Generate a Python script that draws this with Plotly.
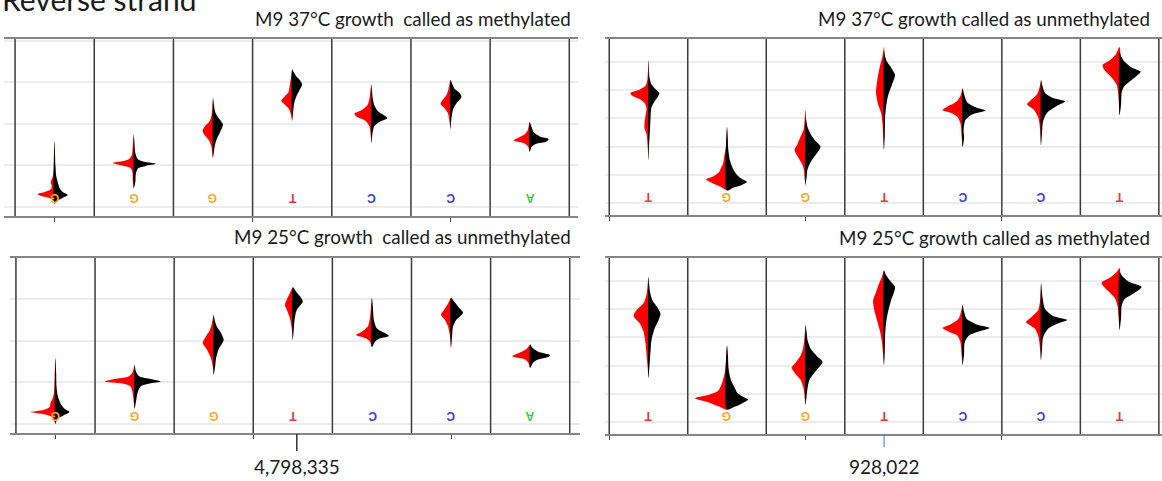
import plotly.graph_objects as go

W, H = 1162, 481

# ---------------- data ----------------
bases_left = ["G", "G", "G", "T", "C", "C", "A"]
bases_right = ["T", "G", "G", "T", "C", "C", "T"]
base_colors = {"G": "#f7a823", "T": "#e0383c", "C": "#3b3bec", "A": "#3cc83c"}

titles = ["M9 37°C growth  called as methylated",
          "M9 37°C growth called as unmethylated",
          "M9 25°C growth  called as unmethylated",
          "M9 25°C growth called as methylated"]
header = "Reverse strand"
positions = ["4,798,335", "928,022"]

# density profiles: (signal level, half-width density)
TL_RED = [
    [(0.08, 0), (0.15, 1), (0.22, 6), (0.27, 14), (0.31, 17), (0.36, 10), (0.42, 4), (0.5, 3), (0.6, 4), (0.72, 2), (0.9, 1), (1.3, 0.7), (1.6, 0)],
    [(0.45, 0), (0.6, 1), (0.85, 1.5), (0.95, 4), (1.0, 12), (1.06, 21), (1.1, 12), (1.15, 5), (1.25, 2), (1.5, 1), (1.76, 0)],
    [(1.18, 0), (1.3, 0.8), (1.45, 1.5), (1.6, 4), (1.72, 8), (1.84, 10.5), (1.95, 8), (2.05, 4), (2.15, 2), (2.3, 1), (2.63, 0)],
    [(2.05, 0), (2.2, 1), (2.35, 3), (2.48, 8), (2.56, 11), (2.65, 8), (2.75, 4), (2.85, 3), (3.0, 2), (3.15, 1), (3.3, 0)],
    [(1.54, 0), (1.75, 0.8), (1.95, 2), (2.08, 6), (2.18, 15), (2.25, 17), (2.33, 10), (2.45, 4), (2.6, 2), (2.8, 1), (2.96, 0)],
    [(1.86, 0), (2.05, 1), (2.25, 2.5), (2.38, 6), (2.48, 10), (2.58, 8), (2.7, 4), (2.85, 2), (3.06, 0)],
    [(1.33, 0), (1.45, 1.5), (1.53, 5), (1.6, 16), (1.66, 12), (1.75, 5), (1.85, 2), (2.05, 0)],
]
TL_BLACK = [
    [(0.08, 0), (0.15, 3), (0.22, 8), (0.29, 13), (0.36, 8), (0.45, 5), (0.6, 3), (0.75, 1.5), (1.0, 0.8), (1.6, 0)],
    [(0.45, 0), (0.6, 1.5), (0.8, 2), (0.93, 4), (0.99, 12), (1.04, 22), (1.09, 10), (1.15, 4), (1.3, 1.5), (1.6, 0.5), (1.76, 0)],
    [(1.18, 0), (1.35, 1), (1.5, 2), (1.65, 4), (1.8, 7), (1.98, 10), (2.1, 7), (2.2, 4), (2.3, 2), (2.45, 1), (2.63, 0)],
    [(2.1, 0), (2.3, 1), (2.5, 2), (2.65, 4), (2.8, 7), (2.95, 10), (3.05, 8), (3.15, 4), (3.25, 1.5), (3.32, 0)],
    [(1.54, 0), (1.75, 1), (1.95, 3), (2.05, 8), (2.14, 16), (2.22, 12), (2.32, 6), (2.45, 3), (2.6, 1.5), (2.85, 0.5), (2.96, 0)],
    [(1.9, 0), (2.15, 1), (2.35, 2.5), (2.5, 6), (2.65, 11), (2.75, 9), (2.85, 4), (2.95, 2), (3.06, 0)],
    [(1.33, 0), (1.45, 2), (1.52, 6), (1.58, 17), (1.64, 19), (1.7, 10), (1.8, 4), (1.92, 2), (2.05, 0)],
]
TR_RED = [
    [(1.53, 0), (2.0, 0.8), (2.45, 2), (2.65, 4), (2.85, 4), (3.1, 3), (3.35, 2), (3.55, 4), (3.7, 10), (3.82, 17), (3.9, 18), (4.0, 10), (4.15, 3), (4.4, 1), (5.06, 0)],
    [(0.47, 0), (0.58, 6), (0.7, 14), (0.85, 21), (0.95, 14), (1.1, 8), (1.25, 6), (1.4, 4), (1.6, 3), (1.8, 2), (2.0, 1), (2.3, 0.5), (2.71, 0)],
    [(0.65, 0), (0.9, 1), (1.15, 1.5), (1.35, 3), (1.6, 7), (1.88, 11), (2.1, 8), (2.35, 5), (2.6, 2), (2.9, 1), (3.3, 0)],
    [(1.88, 0), (2.3, 0.8), (2.8, 1.5), (3.2, 3), (3.5, 6), (3.9, 8), (4.3, 7), (4.7, 5), (5.0, 3), (5.2, 1.5), (5.53, 0)],
    [(1.99, 0), (2.4, 1), (2.8, 2), (3.05, 5), (3.2, 12), (3.3, 20), (3.42, 15), (3.6, 6), (3.8, 2), (4.07, 0)],
    [(2.06, 0), (2.6, 1), (3.0, 2.5), (3.3, 7), (3.5, 14), (3.65, 10), (3.85, 4), (4.1, 1.5), (4.36, 0)],
    [(3.12, 0), (3.5, 0.7), (3.9, 1.5), (4.2, 3), (4.45, 8), (4.7, 15), (4.89, 17), (5.05, 10), (5.25, 4), (5.52, 0)],
]
TR_BLACK = [
    [(1.53, 0), (2.2, 0.8), (2.6, 1.5), (3.0, 2), (3.4, 3), (3.6, 6), (3.75, 9), (3.88, 11), (4.0, 8), (4.2, 3), (4.45, 1), (5.06, 0)],
    [(0.45, 0), (0.55, 6), (0.65, 15), (0.76, 20), (0.88, 14), (1.0, 10), (1.15, 7), (1.3, 5), (1.5, 3), (1.7, 2), (2.0, 1), (2.3, 0.7), (2.71, 0)],
    [(0.65, 0), (0.9, 1), (1.2, 2), (1.45, 5), (1.75, 11), (2.0, 15), (2.2, 10), (2.45, 5), (2.7, 2), (3.0, 0.5), (3.3, 0)],
    [(1.9, 0), (2.4, 0.7), (3.0, 1), (3.4, 2), (3.8, 4), (4.2, 8), (4.53, 11), (4.8, 7), (5.0, 3), (5.2, 1), (5.4, 0)],
    [(1.99, 0), (2.3, 1.5), (2.6, 1), (2.95, 3), (3.15, 10), (3.28, 23), (3.38, 14), (3.55, 5), (3.8, 2), (4.07, 0)],
    [(2.06, 0), (2.5, 1), (2.9, 2), (3.2, 6), (3.45, 16), (3.6, 24), (3.72, 12), (3.9, 4), (4.2, 1), (4.36, 0)],
    [(3.12, 0), (3.5, 1.5), (3.9, 2), (4.1, 4), (4.3, 10), (4.5, 17), (4.65, 21), (4.8, 12), (5.0, 5), (5.2, 1.5), (5.35, 0)],
]
BL_RED = [
    [(0.0, 0), (0.15, 3), (0.22, 10), (0.28, 25), (0.33, 12), (0.4, 6), (0.5, 5), (0.6, 3), (0.75, 1.5), (1.0, 1), (1.3, 0.7), (1.59, 0)],
    [(0.36, 0), (0.55, 1), (0.75, 2), (0.9, 4), (0.97, 12), (1.02, 30), (1.08, 20), (1.14, 6), (1.25, 2), (1.42, 0)],
    [(1.18, 0), (1.4, 1), (1.6, 3), (1.8, 7), (1.95, 11), (2.1, 8), (2.25, 4), (2.4, 2), (2.63, 0)],
    [(2.02, 0), (2.3, 1), (2.55, 3), (2.75, 6), (2.87, 8), (3.0, 6), (3.15, 3), (3.28, 0)],
    [(1.85, 0), (1.98, 2), (2.06, 6), (2.14, 16), (2.22, 10), (2.35, 4), (2.55, 2), (2.8, 1), (3.04, 0)],
    [(1.83, 0), (2.1, 1), (2.35, 3), (2.5, 6), (2.63, 10), (2.75, 7), (2.9, 3), (3.04, 0)],
    [(1.35, 0), (1.48, 2), (1.56, 6), (1.63, 18), (1.7, 12), (1.8, 4), (1.9, 0)],
]
BL_BLACK = [
    [(0.0, 0), (0.12, 2), (0.2, 8), (0.28, 14), (0.36, 9), (0.45, 6), (0.55, 4), (0.7, 2), (0.9, 1), (1.2, 0.7), (1.59, 0)],
    [(0.36, 0), (0.55, 1.5), (0.75, 3), (0.9, 6), (0.97, 15), (1.02, 26), (1.08, 16), (1.14, 5), (1.25, 1.5), (1.42, 0)],
    [(1.18, 0), (1.4, 1.5), (1.6, 2.5), (1.8, 5), (2.02, 10), (2.2, 7), (2.35, 3), (2.5, 1), (2.63, 0)],
    [(2.02, 0), (2.3, 1), (2.55, 2), (2.75, 4), (2.95, 10), (3.08, 7), (3.2, 3), (3.3, 0)],
    [(1.85, 0), (1.98, 3), (2.06, 8), (2.12, 17), (2.2, 12), (2.3, 5), (2.5, 2), (2.8, 1), (3.04, 0)],
    [(1.83, 0), (2.1, 1), (2.35, 2), (2.5, 5), (2.68, 12), (2.8, 8), (2.95, 3), (3.04, 0)],
    [(1.35, 0), (1.48, 3), (1.55, 8), (1.61, 18), (1.66, 20), (1.74, 8), (1.84, 2), (1.92, 0)],
]
BR_RED = [
    [(1.56, 0), (2.0, 1), (2.4, 2), (2.8, 3), (3.2, 5), (3.5, 9), (3.75, 15), (3.95, 12), (4.2, 5), (4.5, 2), (4.8, 1), (5.13, 0)],
    [(0.45, 0), (0.55, 8), (0.7, 18), (0.85, 32), (0.95, 20), (1.1, 9), (1.3, 6), (1.5, 4), (1.8, 2), (2.2, 1), (2.72, 0)],
    [(0.61, 0), (0.9, 1), (1.2, 2), (1.5, 5), (1.75, 11), (1.92, 14), (2.1, 10), (2.35, 5), (2.6, 2.5), (3.0, 1), (3.43, 0)],
    [(2.02, 0), (2.4, 1), (2.8, 2), (3.2, 4), (3.6, 7), (4.0, 10), (4.3, 11), (4.6, 8), (4.9, 5), (5.15, 2), (5.38, 0)],
    [(2.02, 0), (2.4, 1), (2.8, 2), (3.05, 5), (3.2, 14), (3.33, 20), (3.45, 12), (3.65, 4), (3.9, 1.5), (4.14, 0)],
    [(2.2, 0), (2.6, 1), (3.0, 2.5), (3.3, 6), (3.54, 15), (3.7, 10), (3.95, 3), (4.3, 1), (4.92, 0)],
    [(3.26, 0), (3.7, 1), (4.1, 2), (4.4, 5), (4.65, 12), (4.92, 18), (5.1, 10), (5.3, 3), (5.45, 0)],
]
BR_BLACK = [
    [(1.56, 0), (2.0, 1), (2.5, 2), (2.9, 3), (3.3, 6), (3.6, 10), (3.82, 12), (4.05, 9), (4.3, 4), (4.6, 1.5), (5.13, 0)],
    [(0.45, 0), (0.55, 8), (0.68, 16), (0.8, 21), (0.92, 15), (1.05, 10), (1.2, 8), (1.4, 5), (1.6, 3), (1.9, 1.5), (2.3, 1), (2.72, 0)],
    [(0.61, 0), (0.9, 1), (1.2, 2), (1.5, 4), (1.8, 10), (2.13, 17), (2.35, 11), (2.6, 5), (2.9, 2), (3.2, 1), (3.43, 0)],
    [(2.02, 0), (2.5, 0.7), (3.0, 1), (3.5, 2), (3.9, 4), (4.3, 7), (4.6, 10), (4.78, 11), (5.0, 6), (5.2, 2), (5.35, 0)],
    [(2.02, 0), (2.4, 1.5), (2.8, 2), (3.05, 6), (3.2, 16), (3.33, 27), (3.45, 14), (3.65, 4), (3.9, 1.5), (4.14, 0)],
    [(2.2, 0), (2.6, 1), (3.0, 2), (3.3, 7), (3.5, 18), (3.61, 26), (3.75, 12), (4.0, 4), (4.4, 1.5), (4.92, 0)],
    [(3.26, 0), (3.7, 1.5), (4.1, 2), (4.35, 5), (4.55, 14), (4.78, 22), (4.95, 10), (5.15, 3), (5.3, 0)],
]

# ---------------- layout of panels (pixels) ----------------
def px_x(p):
    return p / W

def px_y(p):
    return 1 - p / H

panels = [
    dict(red=TL_RED, black=TL_BLACK, bases=bases_left, title=titles[0],
         xd=(4, 578), yd=(216, 39), xr=(-0.64, 6.61), yr=(-0.217, 4.048),
         ngrid=5, colpx=79.2, ticks=[0, 2.5, 5], title_x=573, title_y=18),
    dict(red=TR_RED, black=TR_BLACK, bases=bases_right, title=titles[1],
         xd=(605, 1162), yd=(215, 39), xr=(-0.554, 6.54), yr=(-0.413, 5.806),
         ngrid=6, colpx=78.5, ticks=[-0.5, 2, 4.5], title_x=1152, title_y=18),
    dict(red=BL_RED, black=BL_BLACK, bases=bases_left, title=titles[2],
         xd=(10, 580), yd=(433, 258), xr=(-0.575, 6.63), yr=(-0.224, 4.0),
         ngrid=5, colpx=79.1, ticks=[0, 2.5, 5], title_x=573, title_y=236),
    dict(red=BR_RED, black=BR_BLACK, bases=bases_right, title=titles[3],
         xd=(605, 1162), yd=(434, 258), xr=(-0.554, 6.54), yr=(-0.417, 5.80),
         ngrid=6, colpx=78.5, ticks=[-0.5, 2, 4.5], title_x=1152, title_y=237),
]

fig = go.Figure()
annotations = []
shapes = []
FONT = "Lato, 'Open Sans', sans-serif"

for k, p in enumerate(panels):
    n = k + 1
    xa = "x" if n == 1 else f"x{n}"
    ya = "y" if n == 1 else f"y{n}"
    xkey = "xaxis" if n == 1 else f"xaxis{n}"
    ykey = "yaxis" if n == 1 else f"yaxis{n}"

    for side, profiles, color in (("red", p["red"], "#ff0000"), ("black", p["black"], "#000000")):
        sign = -1 if side == "red" else 1
        for i, knots in enumerate(profiles):
            ys = [y for y, w in knots]
            xs = [i + sign * w / p["colpx"] for y, w in knots]
            xs += [i]
            ys += [ys[0]]
            fig.add_trace(go.Scatter(x=xs, y=ys, xaxis=xa, yaxis=ya, mode="lines",
                                     fill="toself", fillcolor=color,
                                     line=dict(width=0, color=color, shape="spline", smoothing=0.7),
                                     hoverinfo="skip", showlegend=False))

    fig.update_layout(**{
        xkey: dict(domain=[px_x(p["xd"][0]), px_x(p["xd"][1])], range=list(p["xr"]),
                   anchor=ya, showgrid=False, zeroline=False, showline=True, mirror=True,
                   linecolor="#858585", linewidth=2, tickmode="array", tickvals=p["ticks"],
                   ticks="outside", ticklen=4, tickwidth=1, tickcolor="#444444",
                   showticklabels=False, fixedrange=True),
        ykey: dict(domain=[px_y(p["yd"][0]), px_y(p["yd"][1])], range=list(p["yr"]),
                   anchor=xa, showgrid=True, gridcolor="#ececec", gridwidth=2,
                   tickmode="array", tickvals=list(range(p["ngrid"])),
                   zeroline=False, showline=False, showticklabels=False, ticks="",
                   fixedrange=True),
    })

    # column separators
    for j in range(8):
        shapes.append(dict(type="line", xref=xa, yref=f"{ya} domain", x0=j - 0.5, x1=j - 0.5,
                           y0=0, y1=1, line=dict(color="#3a3a3a", width=1.5), layer="above"))

    # base letters (upside down)
    for i, b in enumerate(p["bases"]):
        annotations.append(dict(x=i, y=0.2, xref=xa, yref=ya, text="<b>" + b + "</b>", showarrow=False,
                                textangle=180, font=dict(size=12, color=base_colors[b],
                                                         family="Liberation Sans, Arial")))

    annotations.append(dict(x=px_x(p["title_x"]), y=px_y(p["title_y"]), xref="paper", yref="paper",
                            text=p["title"], showarrow=False, xanchor="right", yanchor="middle",
                            font=dict(size=18.8, color="#1a1a1a", family=FONT)))

# header (cut off at the top, as in the source figure)
annotations.append(dict(x=0, y=px_y(-1), xref="paper", yref="paper", text=header, showarrow=False,
                        xanchor="left", yanchor="middle", font=dict(size=30, color="#1a1a1a", family=FONT)))

# genomic position markers
annotations.append(dict(x=3.05, y=px_y(466), xref="x3", yref="paper", text=positions[0], showarrow=False,
                        xanchor="center", yanchor="middle", font=dict(size=19, color="#1a1a1a", family=FONT)))
annotations.append(dict(x=3.0, y=px_y(466), xref="x4", yref="paper", text=positions[1], showarrow=False,
                        xanchor="center", yanchor="middle", font=dict(size=19, color="#1a1a1a", family=FONT)))
shapes.append(dict(type="line", xref="x3", yref="paper", x0=3.05, x1=3.05, y0=px_y(434), y1=px_y(451),
                   line=dict(color="#333333", width=1.5)))
shapes.append(dict(type="line", xref="x4", yref="paper", x0=3.0, x1=3.0, y0=px_y(435), y1=px_y(447),
                   line=dict(color="#4a6fd0", width=1)))

fig.update_layout(width=W, height=H, margin=dict(l=0, r=0, t=0, b=0),
                  paper_bgcolor="white", plot_bgcolor="white",
                  annotations=annotations, shapes=shapes, showlegend=False)

fig.write_html("out.html", config={"displayModeBar": False},
               post_script="document.body.style.margin='0';document.body.style.overflow='hidden';")
